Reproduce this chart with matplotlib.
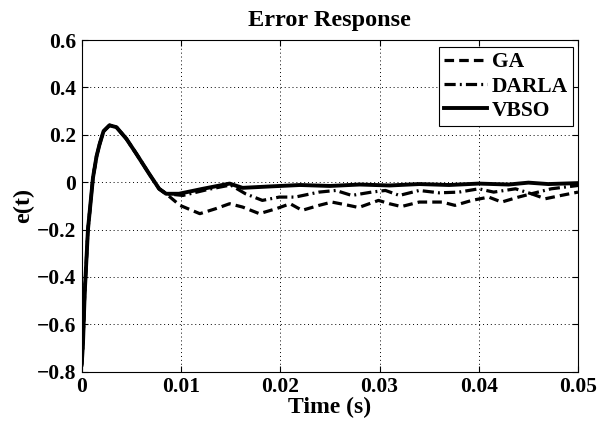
import matplotlib.pyplot as plt

# readings (time in s, error)
t_rise = [0, 0.00013, 0.0003, 0.00063, 0.00114, 0.0015, 0.0018, 0.0022, 0.0028, 0.0035,
          0.0045, 0.0055, 0.0068, 0.0078, 0.0085]
e_rise = [-0.77, -0.68, -0.47, -0.20, 0.02, 0.11, 0.16, 0.215, 0.24, 0.232,
          0.183, 0.12, 0.035, -0.028, -0.049]

t_ga = [0.0085, 0.0099, 0.0119, 0.0135, 0.0149, 0.0162, 0.0179, 0.0196, 0.021,
        0.0222, 0.0239, 0.0252, 0.0269, 0.0279, 0.0299, 0.031, 0.0322, 0.034,
        0.0363, 0.0376, 0.0393, 0.041, 0.0423, 0.044, 0.0453, 0.0467, 0.0483, 0.05]
e_ga = [-0.077, -0.098, -0.133, -0.112, -0.091, -0.105, -0.133, -0.112, -0.091,
        -0.119, -0.098, -0.084, -0.098, -0.107, -0.077, -0.091, -0.103, -0.084,
        -0.084, -0.098, -0.077, -0.063, -0.084, -0.063, -0.049, -0.070, -0.056, -0.042]

t_darla = [0.0085, 0.0102, 0.0128, 0.015, 0.0165, 0.0182, 0.0199, 0.0215, 0.0239,
           0.0256, 0.0272, 0.0292, 0.0306, 0.032, 0.034, 0.036, 0.038, 0.040,
           0.0415, 0.0437, 0.0453, 0.0473, 0.05]
e_darla = [-0.062, -0.056, -0.030, -0.012, -0.049, -0.077, -0.063, -0.063, -0.042,
           -0.035, -0.056, -0.042, -0.035, -0.056, -0.035, -0.045, -0.042, -0.028,
           -0.042, -0.028, -0.049, -0.028, -0.014]

t_vbso = [0.0085, 0.0098, 0.0122, 0.0149, 0.0162, 0.019, 0.022, 0.025, 0.028,
          0.031, 0.034, 0.037, 0.040, 0.043, 0.045, 0.047, 0.050]
e_vbso = [-0.049, -0.049, -0.028, -0.006, -0.024, -0.018, -0.012, -0.016, -0.010,
          -0.014, -0.008, -0.012, -0.006, -0.010, -0.002, -0.008, -0.004]

x_ticks = [0, 0.01, 0.02, 0.03, 0.04, 0.05]
x_labels = ['0', '0.01', '0.02', '0.03', '0.04', '0.05']
y_ticks = [-0.8, -0.6, -0.4, -0.2, 0, 0.2, 0.4, 0.6]
y_labels = ['\u22120.8', '\u22120.6', '\u22120.4', '\u22120.2', '0', '0.2', '0.4', '0.6']

plt.rcParams['font.family'] = 'Liberation Serif'
plt.rcParams['font.weight'] = 'bold'

fig = plt.figure(figsize=(6.07, 4.23), dpi=100)
ax = fig.add_axes([0.1346, 0.1213, 0.8177, 0.7841])

ax.plot(t_rise + t_ga[1:], e_rise + e_ga[1:], color='black', lw=2.3,
        linestyle=(0, (3, 1.6)), label='GA')
ax.plot(t_rise + t_darla[1:], e_rise + e_darla[1:], color='black', lw=2.3,
        linestyle=(0, (3.5, 1.3, 0.6, 1.3)), label='DARLA')
ax.plot(t_rise + t_vbso[1:], e_rise + e_vbso[1:], color='black', lw=2.8,
        label='VBSO')

ax.set_xlim(0, 0.05)
ax.set_ylim(-0.8, 0.6)
ax.set_xticks(x_ticks)
ax.set_xticklabels(x_labels)
ax.set_yticks(y_ticks)
ax.set_yticklabels(y_labels)
ax.tick_params(direction='in', top=True, right=True, labelsize=15.5, length=4)
ax.tick_params(axis='x', pad=4)
ax.tick_params(axis='y', pad=4)
ax.grid(True, linestyle=(0, (1, 3)), color='black', linewidth=0.7)
for s in ax.spines.values():
    s.set_linewidth(0.8)

ax.set_xlabel('Time (s)', fontsize=17, fontweight='bold', labelpad=0)
ax.set_ylabel('e(t)', fontsize=17.5, fontweight='bold', labelpad=2)
ax.set_title('Error Response', fontsize=17.5, fontweight='bold', pad=10)

leg = ax.legend(loc='upper right', bbox_to_anchor=(0.99, 0.979), borderaxespad=0,
                fancybox=False, edgecolor='black', framealpha=1, fontsize=15.5,
                handlelength=2.0, handletextpad=0.2, labelspacing=0.19,
                borderpad=0.25)
leg.get_frame().set_linewidth(0.8)

fig.savefig('out.png', dpi=100)
